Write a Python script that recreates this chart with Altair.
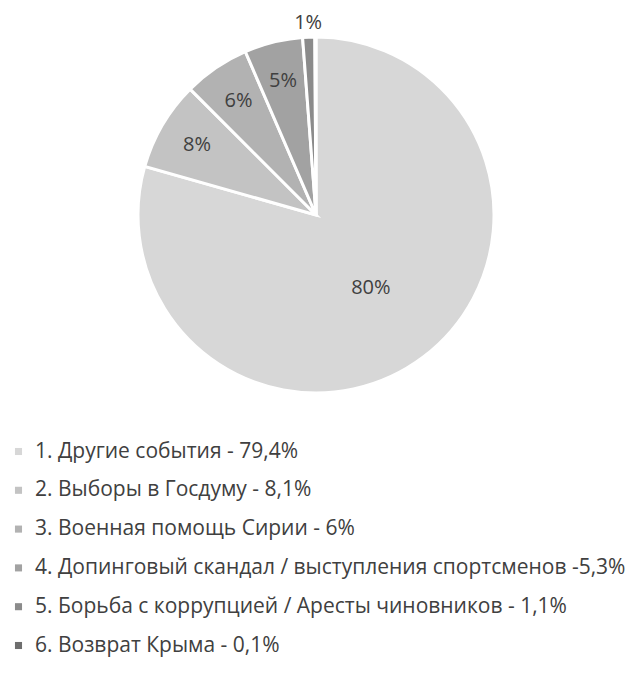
import altair as alt
import pandas as pd

categories = [
    "1. Другие события - 79,4%",
    "2. Выборы в Госдуму - 8,1%",
    "3. Военная помощь Сирии - 6%",
    "4. Допинговый скандал / выступления спортсменов -5,3%",
    "5. Борьба с коррупцией / Аресты чиновников - 1,1%",
    "6. Возврат Крыма - 0,1%",
]
values = [79.4, 8.1, 6.0, 5.3, 1.1, 0.1]
slice_labels = ["80%", "8%", "6%", "5%", "1%", ""]
colors = ["#d7d7d7", "#c3c3c3", "#b2b2b2", "#a2a2a2", "#8b8b8b", "#6e6e6e"]

df = pd.DataFrame({
    "category": categories,
    "value": values,
    "label": slice_labels,
    "order": list(range(1, len(categories) + 1)),
})

FONT = "Open Sans"

pie = alt.Chart(df).mark_arc(outerRadius=178, stroke="white", strokeWidth=3).encode(
    theta=alt.Theta("value:Q", stack=True),
    order=alt.Order("order:Q", sort="ascending"),
    color=alt.Color(
        "category:N",
        sort=categories,
        scale=alt.Scale(domain=categories, range=colors),
        legend=alt.Legend(
            title=None,
            orient="none",
            legendX=-1,
            legendY=433,
            direction="vertical",
            symbolType="square",
            symbolSize=50,
            symbolStrokeWidth=0,
            labelFont=FONT,
            labelFontSize=21,
            labelColor="#404040",
            labelLimit=700,
            labelOffset=6,
            rowPadding=16.8,
            padding=0,
        ),
    ),
)

text = (
    alt.Chart(df)
    .transform_window(cum="sum(value)", sort=[alt.SortField("order", order="ascending")])
    .transform_joinaggregate(total="sum(value)")
    .transform_calculate(
        mid="(datum.cum - datum.value / 2) / datum.total",
        r="datum.value > 50 ? 91 : (datum.value < 2 ? 192 : 138)",
    )
    .transform_filter("datum.label != ''")
    .mark_text(font=FONT, fontSize=20, color="#404040")
    .encode(
        theta=alt.Theta("mid:Q", stack=None, scale=alt.Scale(domain=[0, 1], range=[0, 6.283185])),
        radius=alt.Radius("r:Q", scale=None),
        text="label:N",
    )
)

chart = (
    alt.layer(pie, text)
    .resolve_scale(theta="independent")
    .properties(
        width=614, height=414,
        padding={"left": 0, "top": 0, "right": 0, "bottom": 8},
    )
    .configure_view(stroke=None)
)

chart.save("out.html", embed_options={"renderer": "svg", "actions": False})
